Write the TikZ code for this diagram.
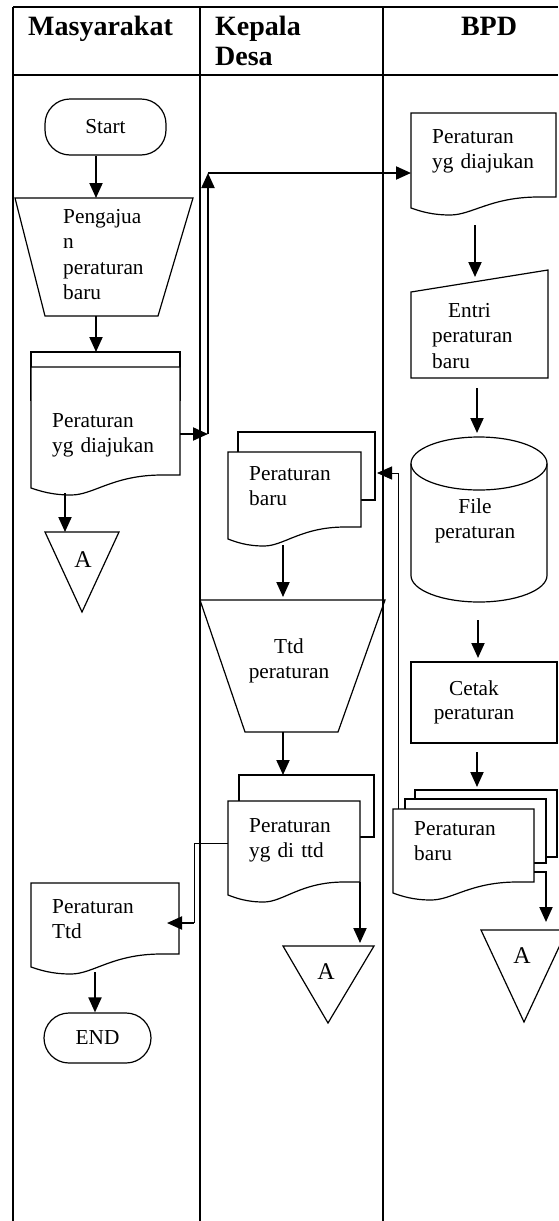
\documentclass[tikz,border=0pt]{standalone}
\usepackage{fontspec}
\setmainfont{Liberation Serif}
\usetikzlibrary{arrows.meta}

% document symbol: left x, top y, right x, right bottom y, left bottom y
\newcommand{\docshape}[5]{%
  \pgfmathsetmacro{\docw}{#3-#1}%
  \draw[shp,fill=white] (#1,#2) -- (#3,#2) -- (#3,#4)
    -- ({#3-0.12*\docw},#4)
    .. controls ({#1+0.55*\docw},#4) and ({#1+0.42*\docw},{#5+7}) .. ({#1+0.27*\docw},{#5+7})
    .. controls ({#1+0.14*\docw},{#5+7}) and ({#1+0.06*\docw},{#5+3}) .. (#1,#5) -- cycle;}

\tikzset{
  lane/.style={line width=1.7pt},
  shp/.style={line width=1.2pt},
  arr/.style={line width=2pt,-{Triangle[length=15pt,width=13pt]}},
  thinarr/.style={line width=1pt,-{Triangle[length=15pt,width=13pt]}},
  txt/.style={inner sep=0pt,text width=130pt,align=left,font=\fontsize{21.3}{25.5}\selectfont},
  ctxt/.style={txt,align=center},
  head/.style={inner sep=0pt,font=\fontsize{28}{30}\selectfont\bfseries},
  term/.style={draw,shp,rounded corners=25pt,inner sep=0pt,font=\fontsize{21.3}{25.5}\selectfont},
  letter/.style={inner sep=0pt,font=\fontsize{24}{24}\selectfont}
}

\begin{document}
\begin{tikzpicture}[x=1pt,y=-1pt]
\useasboundingbox (0,0) rectangle (558,1221);

% swim lanes
\draw[lane] (13,7) -- (558,7);
\draw[lane] (13,75) -- (558,75);
\foreach \lx in {13,200,383}
  \draw[lane] (\lx,7) -- (\lx,1221);

\node[head,anchor=base west] (hmas) at (28,35) {Masyarakat};
\node[head,anchor=base west,text width=150pt,align=left] (hkep) at (215,35) {Kepala\\Desa};
\node[head,anchor=base] (hbpd) at (489,35) {BPD};

% Masyarakat
\node[term,minimum width=121pt,minimum height=56pt] (start) at (105.5,127) {Start};

\draw[shp] (15,198) -- (193,198) -- (158,316) -- (45,316) -- cycle;
\node[txt,anchor=base west] (pengajuan) at (63,223) {Pengajua\\n\\peraturan\\baru};
\coordinate (pengajuan-in) at (96,198);
\coordinate (pengajuan-out) at (96,316);

\draw[shp,fill=white] (31,352) rectangle (180,400);
\docshape{31}{367}{180}{475}{488}
\node[txt,anchor=base west] (usulM) at (52,427) {Peraturan\\yg diajukan};
\coordinate (usulM-in) at (96,352);
\coordinate (usulM-out) at (65,493);
\coordinate (usulM-east) at (180,434);

\draw[shp] (45,532) -- (119,532) -- (82,612) -- cycle;
\node[letter] (aM) at (83,560) {A};
\coordinate (aM-in) at (65,532);

\docshape{31}{883}{179}{954}{967}
\node[txt,anchor=base west] (ttdM) at (52,913) {Peraturan\\Ttd};
\coordinate (ttdM-east) at (167,923);
\coordinate (ttdM-out) at (95,972);

\node[term,minimum width=107pt,minimum height=50pt] (finish) at (97.5,1038) {END};

% Kepala Desa
\draw[shp,fill=white] (238,432) rectangle (375,500);
\docshape{228}{452}{361}{527}{539}
\node[txt,anchor=base west] (baruK) at (249,480) {Peraturan\\baru};
\coordinate (baruK-east) at (377,473);
\coordinate (baruK-out) at (283,545);

\draw[shp] (200,600) -- (385,600) -- (338,732) -- (245,732) -- cycle;
\node[ctxt,anchor=base] (ttd) at (289,653) {Ttd\\peraturan};
\coordinate (ttd-in) at (283,597);
\coordinate (ttd-out) at (283,732);

\draw[shp,fill=white] (239,775) rectangle (374,837);
\docshape{228}{801}{360}{882}{895}
\node[txt,anchor=base west] (ttdK) at (249,832) {Peraturan\\yg di ttd};
\coordinate (ttdK-in) at (283,775);
\coordinate (ttdK-west) at (228,843);
\coordinate (ttdK-out) at (360,882);

\draw[shp] (283,946) -- (374,946) -- (328,1023) -- cycle;
\node[letter] (aK) at (326,972) {A};
\coordinate (aK-in) at (360,943);

% BPD
\docshape{411}{113}{556}{197}{208}
\node[txt,anchor=base west] (usulB) at (432,143) {Peraturan\\yg diajukan};
\coordinate (usulB-west) at (411,173);
\coordinate (usulB-out) at (475,225);

\draw[shp] (411,292) -- (548,270) -- (548,378) -- (411,378) -- cycle;
\node[txt,anchor=base west] (entri) at (432,317) {\hspace*{16pt}Entri\\peraturan\\baru};
\coordinate (entri-in) at (475,277);
\coordinate (entri-out) at (477,388);

\draw[shp] (479,463.5) ellipse[x radius=68,y radius=26.5];
\draw[shp] (411,463.5) -- (411,575.5)
  .. controls (411,590) and (441.5,602) .. (479,602)
  .. controls (516.5,602) and (547,590) .. (547,575.5) -- (547,463.5);
\node[ctxt,anchor=base] (fileP) at (475,513) {File\\peraturan};
\coordinate (fileP-in) at (477,433);
\coordinate (fileP-out) at (478,620);

\draw[shp] (411,662) rectangle (557,743);
\node[ctxt,anchor=base,font=\fontsize{21.3}{24}\selectfont] (cetak) at (474,695) {Cetak\\peraturan};
\coordinate (cetak-in) at (478,658);
\coordinate (cetak-out) at (477,752);

\draw[shp,fill=white] (415,790) rectangle (557,857);
\draw[shp,fill=white] (405,799) rectangle (546,863);
\docshape{393}{809}{534}{882}{893}
\node[txt,anchor=base west] (baruB) at (414,835) {Peraturan\\baru};
\coordinate (baruB-in) at (477,787);
\coordinate (baruB-east) at (534,872);
\coordinate (baruB-top) at (398,809);

\draw[shp] (481,930) -- (567,930) -- (524,1022) -- cycle;
\node[letter] (aB) at (522,956) {A};
\coordinate (aB-in) at (546,922);

% connectors
\draw[arr] (start.south -| pengajuan-in) -- (pengajuan-in);
\draw[arr] (pengajuan-out) -- (usulM-in);
\draw[arr] (usulM-out) -- (aM-in);
\coordinate (up1) at (208,434);
\coordinate (up2) at (208,173);
\draw[arr] (usulM-east) -- (up1);
\draw[arr] (up1) -- (up2);
\draw[arr] (up2) -- (usulB-west);
\draw[arr] (usulB-out) -- (entri-in);
\draw[arr] (entri-out) -- (fileP-in);
\draw[arr] (fileP-out) -- (cetak-in);
\draw[arr] (cetak-out) -- (baruB-in);
\draw[arr] (baruB-east) -| (aB-in);
\draw[thinarr] (baruB-top) |- (baruK-east);
\draw[arr] (baruK-out) -- (ttd-in);
\draw[arr] (ttd-out) -- (ttdK-in);
\draw[arr] (ttdK-out) -- (aK-in);
\coordinate (dn1) at (194,923);
\draw[line width=1pt] (ttdK-west) -| (dn1);
\draw[arr] (dn1) -- (ttdM-east);
\draw[arr] (ttdM-out) -- (finish.north -| ttdM-out);
\end{tikzpicture}
\end{document}
